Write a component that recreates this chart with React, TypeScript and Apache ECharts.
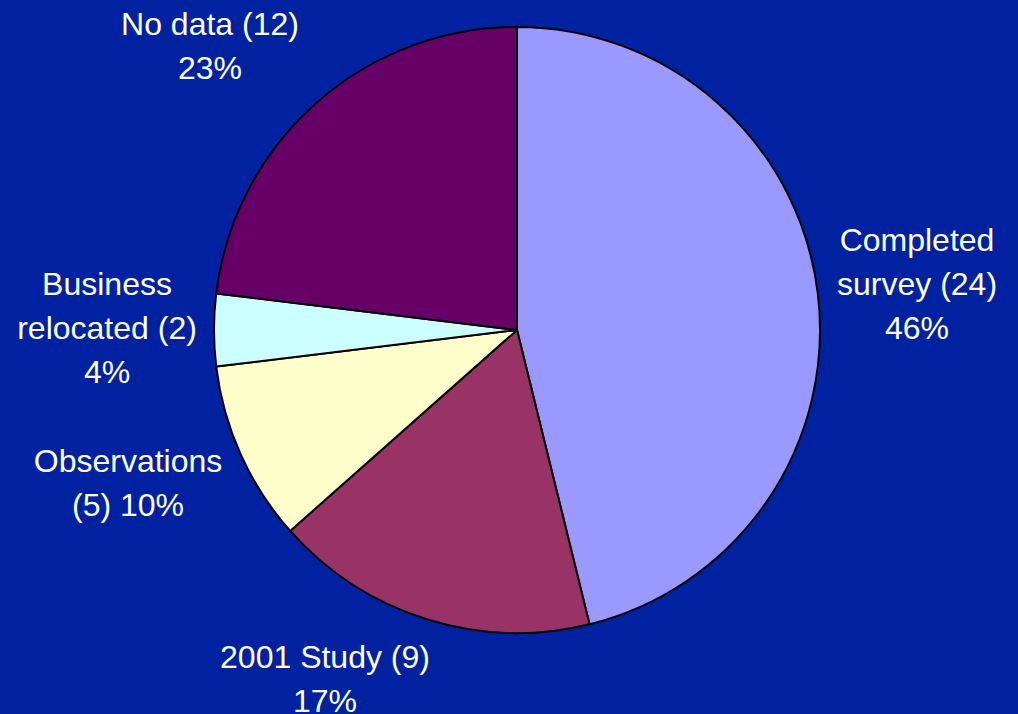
import React, { useEffect, useRef } from "react";
import * as echarts from "echarts";

const categories = ["Completed survey", "2001 Study", "Observations", "Business relocated", "No data"];
const values = [24, 9, 5, 2, 12];
const colors = ["#9999FF", "#993366", "#FFFFCC", "#CCFFFF", "#660066"];
// label templates: {v} value, {p} percent
const labelTemplates = [
  "Completed\nsurvey ({v})\n{p}%",
  "2001 Study ({v})\n{p}%",
  "Observations\n({v}) {p}%",
  "Business\nrelocated ({v})\n{p}%",
  "No data ({v})\n{p}%",
];
const labelPos = [
  [917, 284],
  [325, 679],
  [128, 483],
  [107, 328],
  [210, 46],
];

export default function App() {
  const ref = useRef<HTMLDivElement>(null);
  useEffect(() => {
    const chart = echarts.init(ref.current!, null, { renderer: "svg" });
    chart.setOption({
      animation: false,
      backgroundColor: "#0022A0",
      series: [
        {
          type: "pie",
          center: [517, 330],
          radius: 303,
          startAngle: 90,
          clockwise: true,
          percentPrecision: 0,
          avoidLabelOverlap: false,
          data: categories.map((n, i) => ({ name: n, value: values[i], itemStyle: { color: colors[i] } })),
          itemStyle: { borderColor: "#000", borderWidth: 2 },
          labelLine: { show: false },
          label: {
            show: true,
            position: "outside",
            overflow: "none",
            width: 400,
            color: "#fff",
            fontFamily: "Liberation Sans, Arial, sans-serif",
            fontSize: 32,
            lineHeight: 44,
            align: "center",
            formatter: (p: any) =>
              labelTemplates[p.dataIndex].replace("{v}", String(p.value)).replace("{p}", String(Math.round(p.percent))),
          },
          labelLayout: (params: any) => ({
            x: labelPos[params.dataIndex][0],
            y: labelPos[params.dataIndex][1],
            align: "center",
            verticalAlign: "middle",
          }),
          emphasis: { disabled: true },
        },
      ],
    });
    return () => chart.dispose();
  }, []);
  return <div ref={ref} style={{ position: "absolute", left: 0, top: 0, width: 1018, height: 714 }} />;
}
